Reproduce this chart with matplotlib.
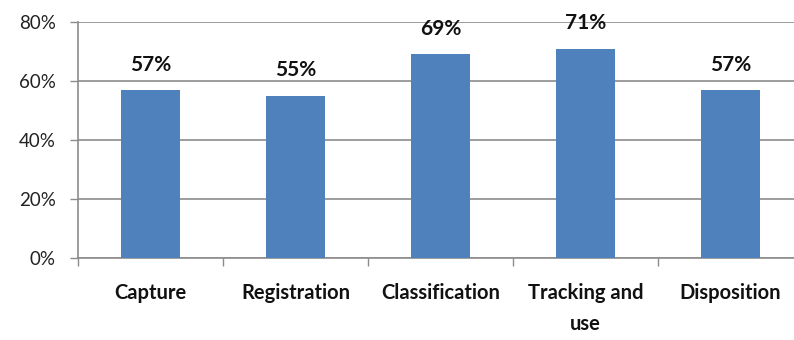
import matplotlib.pyplot as plt
from matplotlib.ticker import PercentFormatter

stages = ["Capture", "Registration", "Classification", "Tracking and\nuse", "Disposition"]
shares = [57, 55, 69, 71, 57]
y_ticks = [0, 20, 40, 60, 80]

plt.rcParams['font.family'] = ['Lato', 'DejaVu Sans']

fig = plt.figure(figsize=(7.94, 3.4), dpi=100)
# plot area runs a little past the right edge of the canvas
ax = fig.add_axes([78 / 794, 1 - 258 / 340, 725 / 794, 236 / 340])

x = range(len(stages))
bars = ax.bar(x, shares, width=0.41, color="#4F81BD", zorder=3)

for xi, v in zip(x, shares):
    ax.annotate(f"{v}%", (xi, v), xytext=(0, 11), textcoords="offset points",
                ha="center", va="bottom", fontsize=15, fontweight="bold", color="#111111")

ax.set_xlim(-0.5, len(stages) - 0.5)
ax.set_ylim(0, 80)
ax.set_yticks(y_ticks)
ax.yaxis.set_major_formatter(PercentFormatter(decimals=0))
ax.grid(axis="y", color="#8c8c8c", linewidth=1.2, zorder=0)

ax.set_xticks([i - 0.5 for i in range(len(stages) + 1)])
ax.set_xticklabels([])
ax.set_xticks(list(x), minor=True)
ax.set_xticklabels(stages, minor=True, fontsize=14.5, fontweight="bold", color="#111111",
                   linespacing=1.7)
ax.tick_params(axis="x", which="minor", length=0, pad=18)
ax.tick_params(axis="x", which="major", length=5.5, width=1, color="#8c8c8c", direction="out")
ax.tick_params(axis="y", length=6, width=1, color="#8c8c8c", labelsize=13.5,
               labelcolor="#222222", pad=10)

for side in ("top", "right"):
    ax.spines[side].set_visible(False)
for side in ("left", "bottom"):
    ax.spines[side].set_color("#8c8c8c")
    ax.spines[side].set_linewidth(1.2)

fig.savefig("out.png", dpi=100)
